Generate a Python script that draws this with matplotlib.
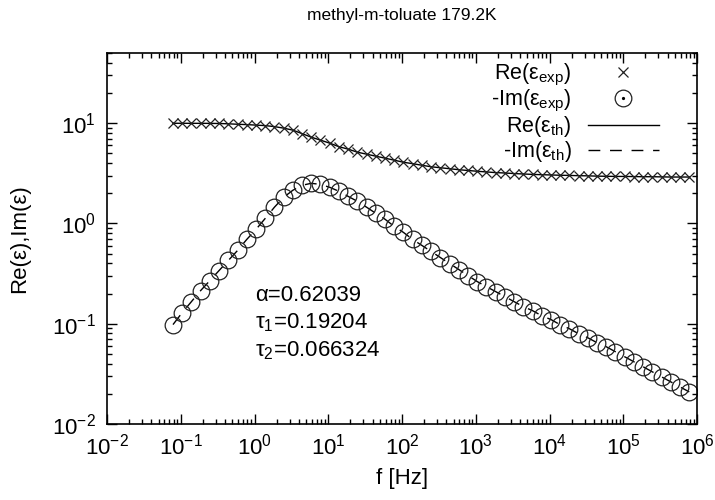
import matplotlib
matplotlib.use("Agg")
import matplotlib.pyplot as plt
from matplotlib.legend_handler import HandlerTuple

plt.rcParams['font.family'] = ['Liberation Sans', 'DejaVu Sans']
plt.rcParams['mathtext.fontset'] = 'custom'
plt.rcParams['mathtext.rm'] = 'Liberation Sans'
plt.rcParams['mathtext.it'] = 'Liberation Sans:italic'
plt.rcParams['mathtext.bf'] = 'Liberation Sans:bold'

title = "methyl-m-toluate 179.2K"

freq = [0.0785, 0.1047, 0.1396, 0.1862, 0.2483, 0.3311, 0.4416, 0.5888,
        0.785, 1.047, 1.396, 1.862, 2.483, 3.311, 4.416, 5.888,
        7.85, 10.47, 13.96, 18.62, 24.83, 33.11, 44.16, 58.88,
        78.5, 104.7, 139.6, 186.2, 248.3, 331.1, 441.6, 588.8,
        785, 1047, 1396, 1862, 2483, 3311, 4416, 5888,
        7850, 10470, 13960, 18620, 24830, 33110, 44160, 58880,
        78500, 104700, 139600, 186200, 248300, 331100, 441600, 588800,
        785000]

re_eps = [9.96, 9.96, 9.95, 9.95, 9.94, 9.91, 9.84, 9.74,
          9.66, 9.55, 9.44, 9.23, 8.91, 8.51, 7.85, 7.24,
          6.76, 6.31, 5.82, 5.50, 5.13, 4.90, 4.68, 4.47,
          4.27, 4.07, 3.94, 3.80, 3.67, 3.59, 3.51, 3.43,
          3.37, 3.31, 3.26, 3.21, 3.18, 3.14, 3.11, 3.08,
          3.06, 3.04, 3.02, 3.01, 2.99, 2.98, 2.96, 2.95,
          2.94, 2.94, 2.93, 2.92, 2.92, 2.91, 2.90, 2.90,
          2.90]

im_eps = [0.098, 0.129, 0.166, 0.214, 0.269, 0.339, 0.427, 0.537,
          0.692, 0.871, 1.12, 1.45, 1.82, 2.14, 2.40, 2.51,
          2.45, 2.29, 2.09, 1.86, 1.66, 1.45, 1.26, 1.10,
          0.933, 0.813, 0.692, 0.603, 0.525, 0.457, 0.398, 0.347,
          0.302, 0.263, 0.234, 0.209, 0.186, 0.166, 0.148, 0.135,
          0.120, 0.110, 0.0977, 0.0891, 0.0794, 0.0724, 0.0646, 0.0589,
          0.0525, 0.0468, 0.0417, 0.0372, 0.0331, 0.0295, 0.0263, 0.0234,
          0.0209]

# fitted curves (visually coincide with the data)
re_th = re_eps
im_th = im_eps

params = ["\u03b1=0.62039", "\u03c4$_1$=0.19204", "\u03c4$_2$=0.066324"]
labels = ["Re(\u03b5$_\\mathrm{exp}$)", "-Im(\u03b5$_\\mathrm{exp}$)",
          "Re(\u03b5$_\\mathrm{th}$)", "-Im(\u03b5$_\\mathrm{th}$)"]

fig = plt.figure(figsize=(7.15, 5.0), dpi=100)
ax = fig.add_axes([107/715, 1-424/500, 590/715, 371/500])
ax.set_xscale('log')
ax.set_yscale('log')
ax.set_xlim(1e-2, 1e6)
ax.set_ylim(1e-2, 50)

fs = 16
h_re, = ax.plot(freq, re_th, ls='-', lw=1.0, color='black')
h_im, = ax.plot(freq, im_th, ls=(0, (8.5, 7)), lw=1.0, color='black')
h_cross, = ax.plot(freq, re_eps, ls='none', marker='x', ms=6.5, mew=0.9, color='#222222')
h_circ, = ax.plot(freq, im_eps, ls='none', marker='o', ms=12, mfc='none', mew=0.9, color='#222222')
h_dot, = ax.plot([], [], ls='none', marker='o', ms=1.3, color='black')

leg = ax.legend([h_cross, (h_circ, h_dot), h_re, h_im], labels,
                handler_map={tuple: HandlerTuple(ndivide=1, pad=0)},
                loc='upper right', bbox_to_anchor=(0.957, 1.01),
                frameon=False, markerfirst=False, fontsize=15.5,
                handlelength=3.3, handletextpad=0.75, labelspacing=0.0,
                borderaxespad=0.2)

for i, t in enumerate(params):
    ax.text(0.251, 0.346 - i*0.074, t, transform=ax.transAxes, fontsize=fs,
            ha='left', va='center')

ax.set_title(title, fontsize=12.5, pad=24)
ax.set_xlabel("f [Hz]", fontsize=fs)
ax.set_ylabel("Re(\u03b5),Im(\u03b5)", fontsize=fs)
ax.xaxis.set_label_coords(0.5, -0.118)
ax.yaxis.set_label_coords(-0.13, 0.5)

ax.tick_params(which='both', direction='in', top=True, right=True, width=1.0, labelsize=fs)
ax.tick_params(which='major', length=7)
ax.tick_params(which='minor', length=3.5)
ax.tick_params(axis='x', which='major', pad=7)
ax.tick_params(axis='y', which='major', pad=8)
for s in ax.spines.values():
    s.set_linewidth(1.2)

fig.savefig("out.png", dpi=100)
